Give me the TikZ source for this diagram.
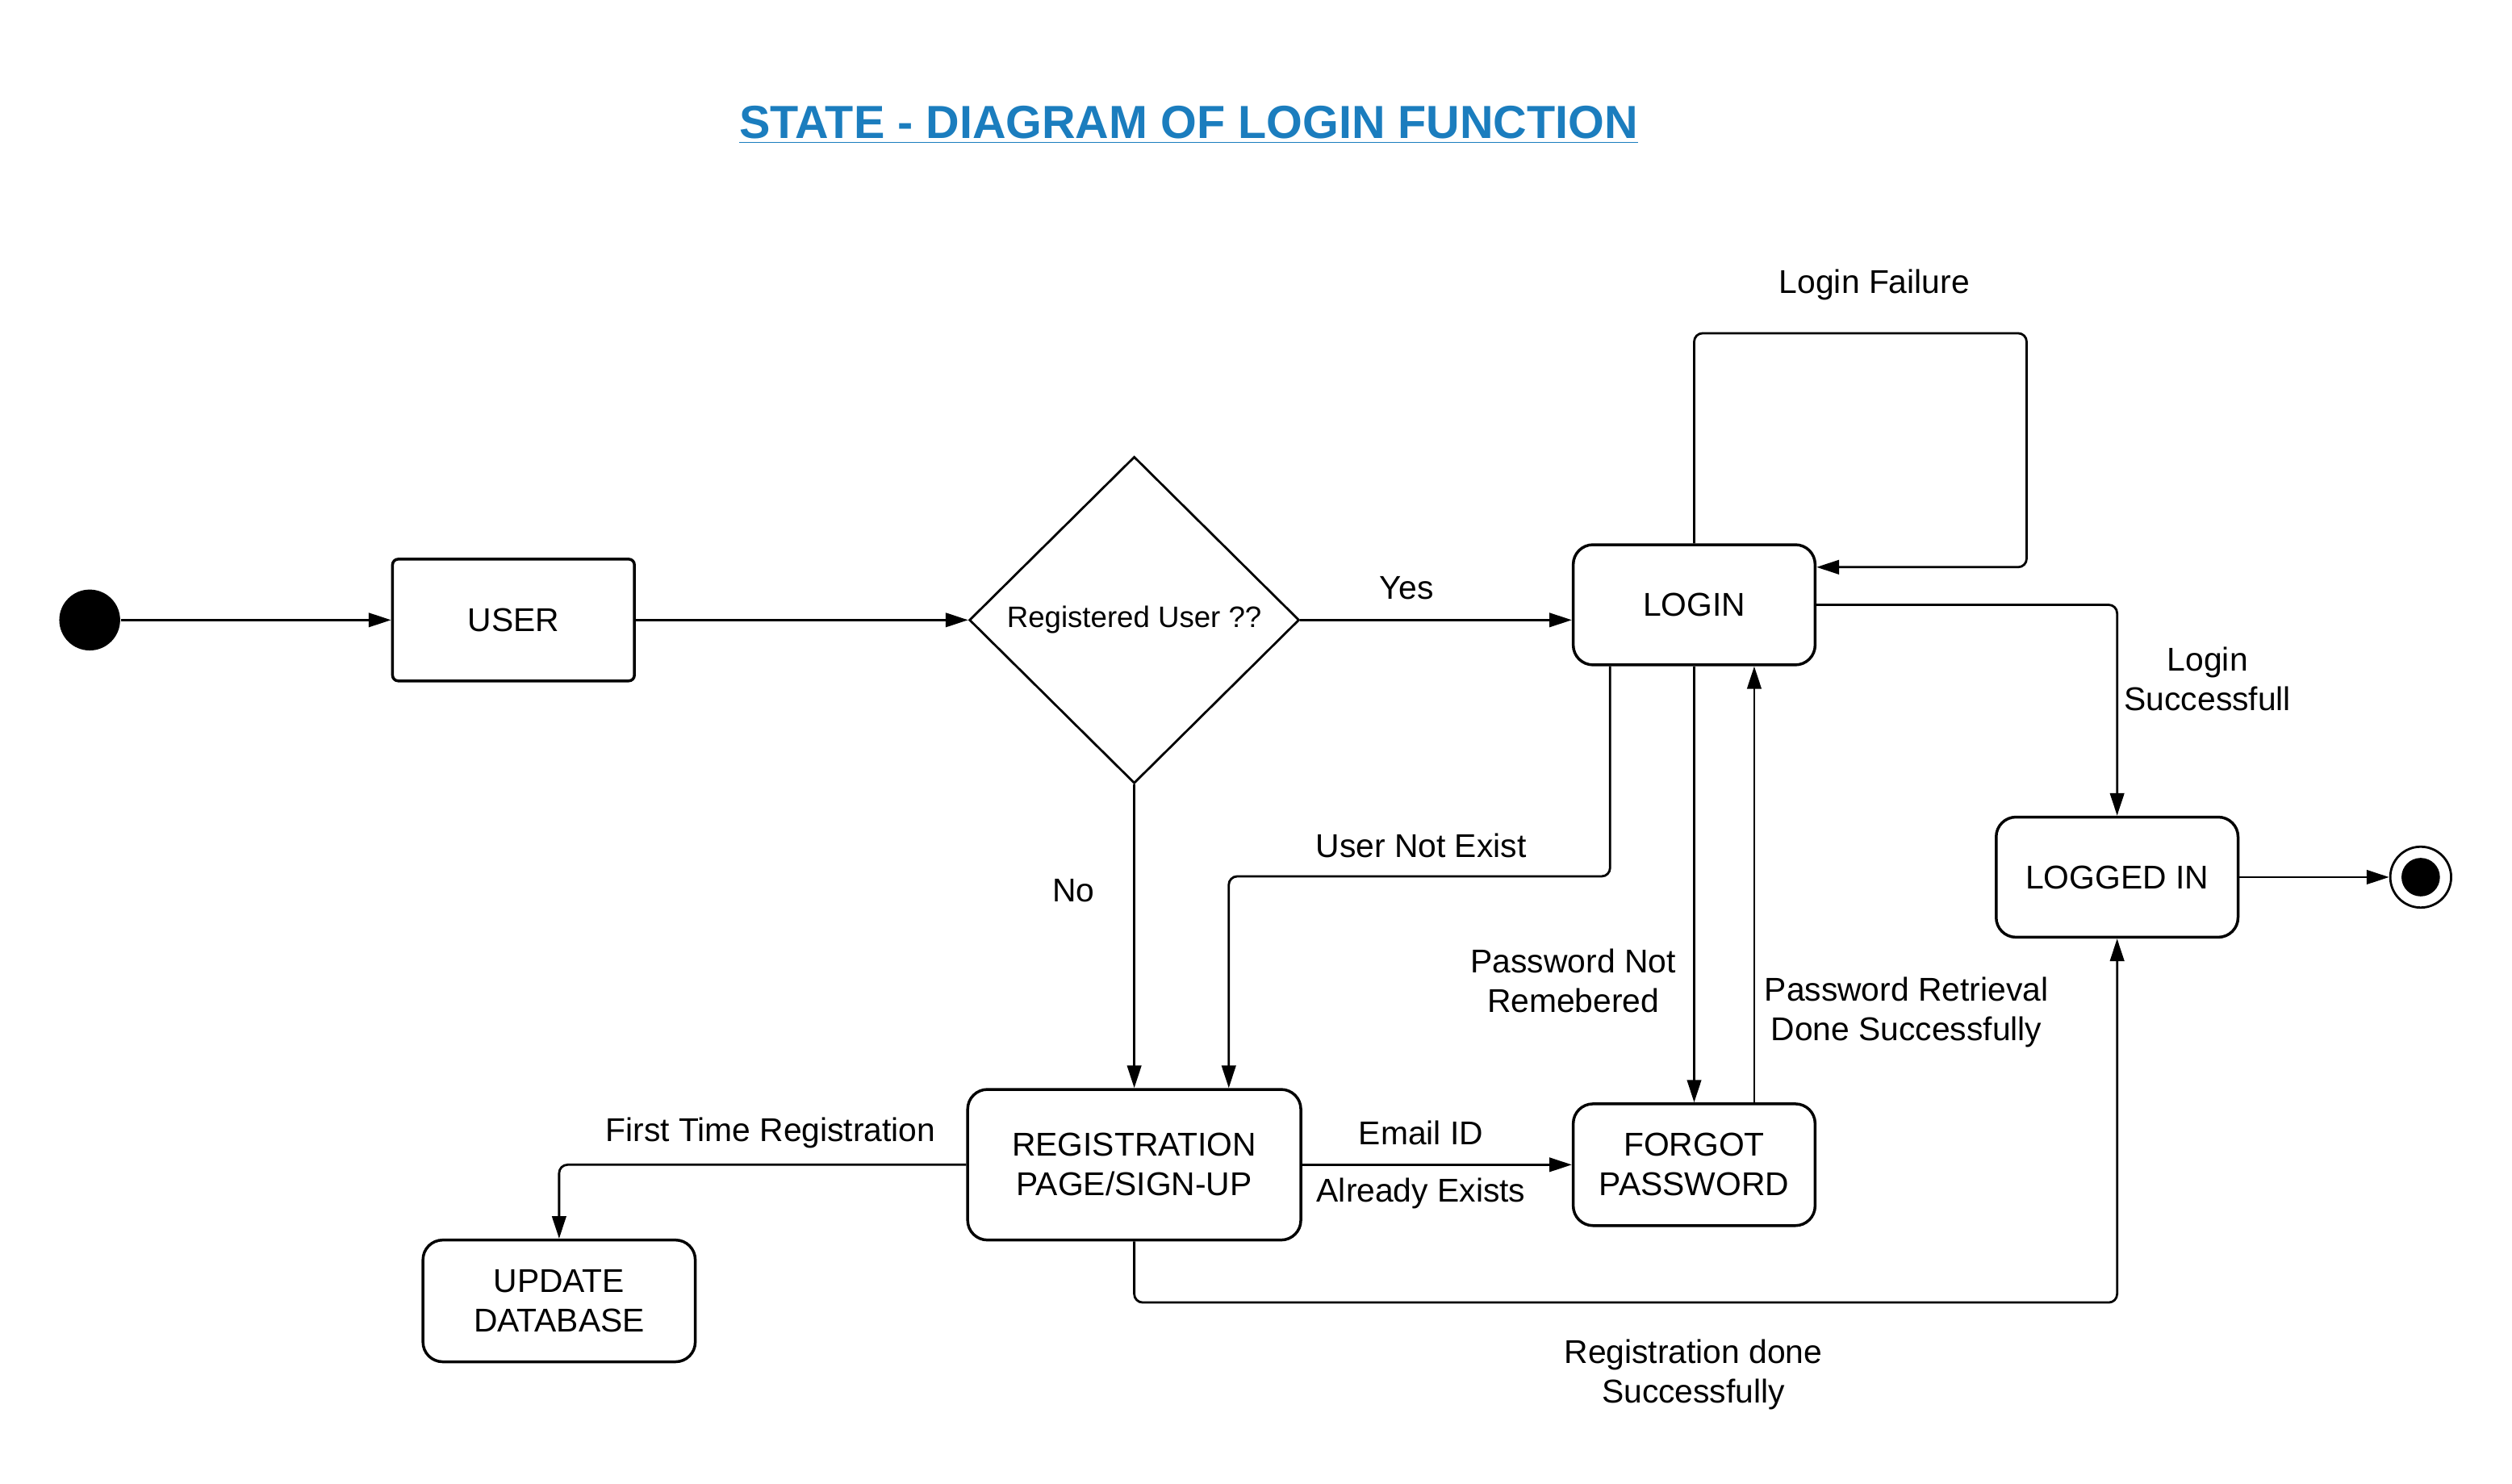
\documentclass[tikz,border=0pt]{standalone}
\usepackage{fontspec}
\setmainfont{Liberation Sans}
\usetikzlibrary{arrows.meta, shapes.geometric}

\definecolor{titleblue}{RGB}{27,125,190}

\tikzset{
  state/.style={draw, line width=1pt, rounded corners=7pt, align=center,
    minimum width=3.02cm, minimum height=1.52cm, font=\fontsize{11.7}{14}\selectfont},
  lbl/.style={align=center, font=\fontsize{11.7}{14}\selectfont},
  flow/.style={line width=0.8pt, rounded corners=3pt, -{Triangle[length=8pt,width=5pt]}},
}

\begin{document}
\begin{tikzpicture}[x=0.02cm,y=-0.02cm]
  \useasboundingbox (0,0) rectangle (1568,926);

  \node[text=titleblue, font=\bfseries\fontsize{16.5}{20}\selectfont] (title) at (742,78)
    {\underline{STATE - DIAGRAM OF LOGIN FUNCTION}};

  % states
  \node[circle, fill, minimum size=0.76cm, inner sep=0pt] (init) at (56,387) {};
  \node[state, rounded corners=2pt] (user) at (320.5,387) {USER};
  \node[draw, diamond, line width=0.8pt, minimum width=4.12cm, minimum height=4.08cm,
    inner sep=0pt, font=\fontsize{10.5}{12}\selectfont] (regq) at (708,387) {Registered User ??};
  \node[state, minimum height=1.5cm] (login) at (1057.5,377.5) {LOGIN};
  \node[state, minimum height=1.5cm] (loggedin) at (1321.5,547.5) {LOGGED IN};
  \node[circle, draw, line width=0.8pt, minimum size=0.76cm, inner sep=0pt] (final) at (1511,547.5) {};
  \fill (final.center) circle (0.24cm);
  \node[state, minimum width=4.16cm, minimum height=1.88cm] (signup) at (708,727) {REGISTRATION\\PAGE/SIGN-UP};
  \node[state] (forgot) at (1057.5,727) {FORGOT\\PASSWORD};
  \node[state, minimum width=3.4cm] (update) at (349,812) {UPDATE\\DATABASE};

  % bends
  \coordinate (loopc) at (1265,208);
  \coordinate (unebend) at (767,547);
  \coordinate (regbend) at (1321.5,813);

  % transitions
  \draw[flow] (init) -- (user);
  \draw[flow] (user) -- (regq);
  \draw[flow] (regq.east) -- (regq.east -| login.west);
  \draw[flow] (login.north) |- (loopc) |- ([yshift=0.47cm]login.east);
  \draw[flow] (login.east) -| (loggedin.north);
  \draw[flow] (loggedin) -- (final);
  \draw[flow] ([xshift=-1.05cm]login.south) |- (unebend) -- (unebend |- signup.north);
  \draw[flow] (regq.south) -- (signup.north);
  \draw[flow] (login.south) -- (forgot.north);
  \draw[flow] ([xshift=0.75cm]forgot.north) -- ([xshift=0.75cm]login.south);
  \draw[flow] (signup.east) -- (forgot.west);
  \draw[flow] (signup.west) -| (update.north);
  \draw[flow] (signup.south) |- (regbend) -- (loggedin.south);

  % labels
  \node[lbl] (yes) at (878,367) {Yes};
  \node[lbl] (fail) at (1170,178) {Login Failure};
  \node[lbl] (succ) at (1378,424) {Login\\Successfull};
  \node[lbl] (notexist) at (887,528) {User Not Exist};
  \node[lbl] (no) at (670,556) {No};
  \node[lbl] (notrem) at (982,612) {Password Not\\Remebered};
  \node[lbl] (retr) at (1190,632) {Password Retrieval\\Done Successfully};
  \node[lbl] (email) at (887,707) {Email ID};
  \node[lbl] (exists) at (887,745) {Already Exists};
  \node[lbl] (first) at (481,707) {First Time Registration};
  \node[lbl] (regdone) at (1057,858) {Registration done\\Successfully};
\end{tikzpicture}
\end{document}
